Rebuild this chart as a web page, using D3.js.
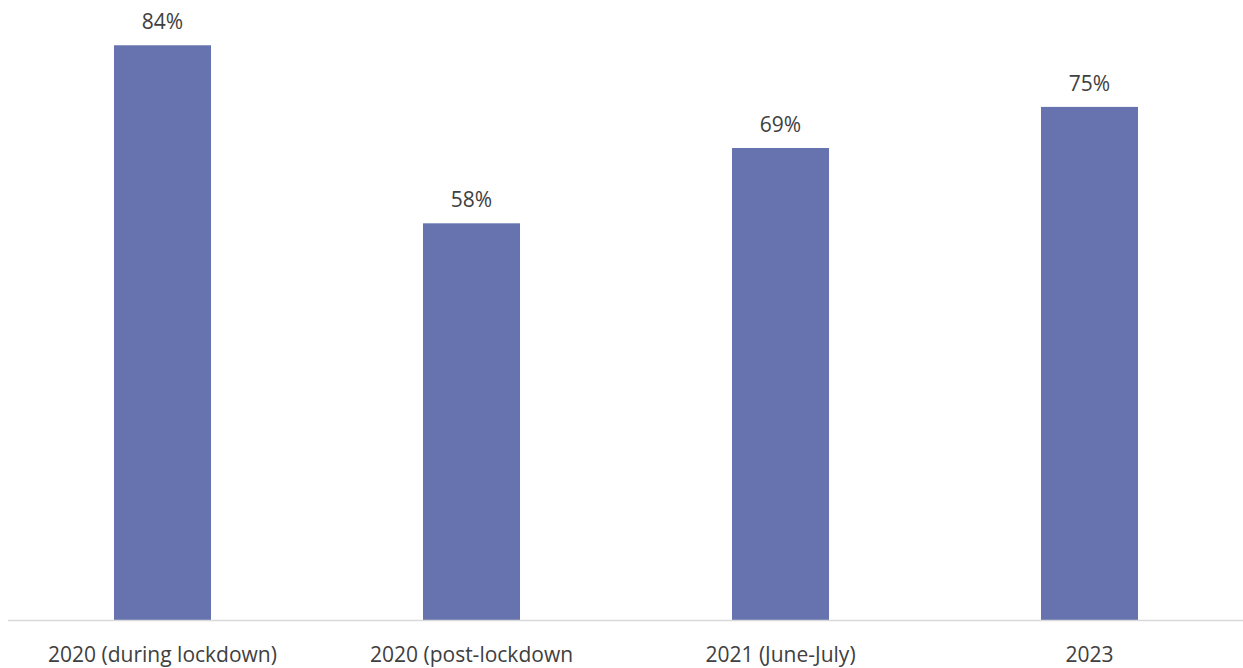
<!DOCTYPE html>
<html>
<head>
<meta charset="utf-8">
<script src="https://cdn.jsdelivr.net/npm/d3@7"></script>
<style>
  html, body { margin: 0; padding: 0; background: #fff; }
  svg { display: block; }
  text { font-family: "Open Sans", "Liberation Sans", sans-serif; fill: #404040; }
</style>
</head>
<body>
<svg id="chart" width="1243" height="668"></svg>
<script>
const categories = ["2020 (during lockdown)", "2020 (post-lockdown", "2021 (June-July)", "2023"];
const values = [84, 58, 69, 75];

const svg = d3.select("#chart");
const left = 8, right = 1244, baseline = 620.5;
const fontSize = 21;

const x = d3.scaleBand()
  .domain(categories)
  .range([left, right])
  .paddingInner(0.686)
  .paddingOuter(0.343);

const y = d3.scaleLinear()
  .domain([0, 90])
  .range([baseline, baseline - 90 * 6.848]);

// bars
svg.append("g")
  .selectAll("rect")
  .data(values)
  .join("rect")
  .attr("x", (d, i) => x(categories[i]))
  .attr("y", d => y(d))
  .attr("width", x.bandwidth())
  .attr("height", d => y(0) - y(d))
  .attr("fill", "#6773ae");

// value labels
svg.append("g")
  .selectAll("text")
  .data(values)
  .join("text")
  .attr("x", (d, i) => x(categories[i]) + x.bandwidth() / 2)
  .attr("y", d => y(d) - 16)
  .attr("text-anchor", "middle")
  .attr("font-size", fontSize)
  .text(d => d + "%");

// category axis
const xAxis = svg.append("g")
  .attr("transform", `translate(0,${baseline})`)
  .call(d3.axisBottom(x).tickSize(0));
xAxis.select(".domain").attr("stroke", "#d9d9d9").attr("stroke-width", 1.3)
  .attr("d", `M${left},0H${right}`);
xAxis.selectAll(".tick text")
  .attr("y", 41.5)
  .attr("dy", null)
  .attr("font-size", fontSize)
  .attr("fill", "#404040")
  .attr("font-family", "'Open Sans', 'Liberation Sans', sans-serif");
</script>
</body>
</html>
